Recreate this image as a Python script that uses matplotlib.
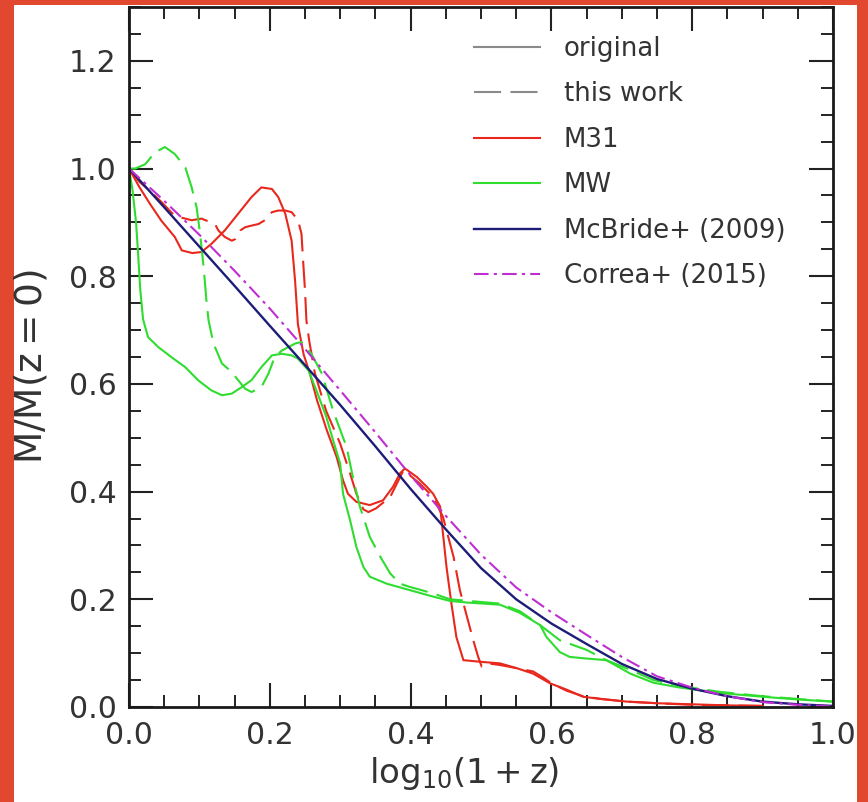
import matplotlib
matplotlib.use("Agg")
import matplotlib.pyplot as plt
from matplotlib.lines import Line2D
from matplotlib.patches import Rectangle
from matplotlib.ticker import MultipleLocator, FormatStrFormatter

plt.rcParams["font.family"] = ["DejaVu Sans"]
plt.rcParams["mathtext.fontset"] = "dejavusans"

# ---- mass accretion histories, x = log10(1+z), y = M/M(z=0) ----
m31_orig_x = [0.0, 0.015, 0.030, 0.046, 0.065, 0.075, 0.090, 0.103, 0.117, 0.136,
              0.155, 0.174, 0.188, 0.203, 0.212, 0.222, 0.231, 0.236, 0.240, 0.248,
              0.257, 0.267, 0.281, 0.295, 0.304, 0.311, 0.323, 0.342, 0.361, 0.375,
              0.385, 0.392, 0.409, 0.423, 0.432, 0.442, 0.446, 0.451, 0.458, 0.465,
              0.475, 0.499, 0.527, 0.551, 0.574, 0.598, 0.622, 0.645, 0.670, 0.707,
              0.750, 0.800, 0.850, 0.900]
m31_orig_y = [1.000, 0.965, 0.934, 0.903, 0.873, 0.848, 0.843, 0.845, 0.860, 0.885,
              0.916, 0.947, 0.965, 0.962, 0.947, 0.916, 0.866, 0.790, 0.710, 0.655,
              0.619, 0.570, 0.514, 0.464, 0.421, 0.396, 0.381, 0.375, 0.384, 0.409,
              0.434, 0.443, 0.427, 0.409, 0.396, 0.372, 0.322, 0.260, 0.192, 0.130,
              0.087, 0.084, 0.081, 0.072, 0.062, 0.044, 0.032, 0.019, 0.015, 0.010,
              0.007, 0.005, 0.003, 0.002]

m31_this_x = [0.0, 0.015, 0.030, 0.046, 0.065, 0.089, 0.103, 0.122, 0.127, 0.136,
              0.146, 0.151, 0.158, 0.165, 0.174, 0.184, 0.193, 0.203, 0.212, 0.222,
              0.231, 0.240, 0.245, 0.247, 0.250, 0.252, 0.256, 0.264, 0.280, 0.300,
              0.314, 0.323, 0.333, 0.340, 0.351, 0.371, 0.390, 0.413, 0.432, 0.446,
              0.451, 0.461, 0.470, 0.480, 0.489, 0.496, 0.501, 0.510, 0.527, 0.551,
              0.574, 0.588, 0.600, 0.622, 0.645, 0.670, 0.707, 0.750, 0.800, 0.850,
              0.900]
m31_this_y = [1.000, 0.975, 0.958, 0.938, 0.912, 0.904, 0.907, 0.897, 0.885, 0.873,
              0.866, 0.869, 0.885, 0.891, 0.894, 0.897, 0.904, 0.919, 0.922, 0.922,
              0.919, 0.904, 0.879, 0.835, 0.774, 0.718, 0.680, 0.620, 0.550, 0.489,
              0.434, 0.396, 0.367, 0.362, 0.369, 0.390, 0.440, 0.415, 0.390, 0.353,
              0.328, 0.279, 0.217, 0.168, 0.124, 0.093, 0.075, 0.081, 0.078, 0.072,
              0.066, 0.055, 0.044, 0.030, 0.020, 0.015, 0.010, 0.007, 0.004, 0.003,
              0.002]

mw_orig_x = [0.0, 0.005, 0.010, 0.013, 0.016, 0.020, 0.027, 0.042, 0.060, 0.080,
             0.098, 0.117, 0.132, 0.146, 0.160, 0.174, 0.188, 0.203, 0.217, 0.231,
             0.240, 0.255, 0.265, 0.280, 0.290, 0.300, 0.304, 0.314, 0.323, 0.333,
             0.342, 0.366, 0.399, 0.432, 0.456, 0.480, 0.527, 0.555, 0.584, 0.593,
             0.612, 0.626, 0.650, 0.678, 0.712, 0.745, 0.783, 0.840, 0.900, 0.950,
             1.000]
mw_orig_y = [1.000, 0.960, 0.900, 0.840, 0.775, 0.720, 0.687, 0.668, 0.650, 0.631,
             0.607, 0.588, 0.579, 0.582, 0.594, 0.607, 0.631, 0.653, 0.656, 0.653,
             0.647, 0.625, 0.592, 0.540, 0.495, 0.452, 0.396, 0.347, 0.297, 0.260,
             0.242, 0.229, 0.217, 0.205, 0.197, 0.194, 0.190, 0.175, 0.152, 0.130,
             0.102, 0.093, 0.090, 0.087, 0.062, 0.045, 0.036, 0.026, 0.019, 0.014,
             0.010]

mw_this_x = [0.0, 0.009, 0.023, 0.037, 0.051, 0.065, 0.080, 0.089, 0.096, 0.101,
             0.106, 0.110, 0.113, 0.120, 0.132, 0.146, 0.155, 0.165, 0.174, 0.188,
             0.198, 0.207, 0.217, 0.236, 0.245, 0.259, 0.274, 0.290, 0.309, 0.319,
             0.328, 0.342, 0.357, 0.371, 0.385, 0.399, 0.432, 0.456, 0.527, 0.555,
             0.584, 0.612, 0.650, 0.678, 0.712, 0.745, 0.783, 0.840, 0.900, 0.950,
             1.000]
mw_this_y = [1.000, 1.000, 1.008, 1.030, 1.040, 1.027, 1.002, 0.965, 0.928, 0.879,
             0.817, 0.755, 0.718, 0.675, 0.638, 0.622, 0.607, 0.591, 0.585, 0.594,
             0.619, 0.650, 0.662, 0.675, 0.678, 0.656, 0.619, 0.550, 0.483, 0.421,
             0.372, 0.316, 0.279, 0.248, 0.229, 0.223, 0.211, 0.200, 0.192, 0.178,
             0.152, 0.124, 0.106, 0.087, 0.069, 0.050, 0.039, 0.028, 0.020, 0.015,
             0.010]

# fitting-function curves sampled every 0.05 in log10(1+z)
fit_x = [0.00, 0.05, 0.10, 0.15, 0.20, 0.25, 0.30, 0.35, 0.40, 0.45, 0.50,
         0.55, 0.60, 0.65, 0.70, 0.75, 0.80, 0.85, 0.90, 0.95, 1.00]
mcbride_y = [1.000, 0.928, 0.855, 0.782, 0.708, 0.635, 0.561, 0.484, 0.405, 0.330,
             0.258, 0.200, 0.155, 0.117, 0.080, 0.052, 0.034, 0.020, 0.010, 0.005,
             0.002]
correa_y = [1.000, 0.940, 0.877, 0.810, 0.740, 0.665, 0.588, 0.510, 0.430, 0.355,
            0.283, 0.222, 0.176, 0.134, 0.093, 0.057, 0.036, 0.020, 0.009, 0.004,
            0.001]

legend_labels = ["original", "this work", "M31", "MW",
                 "McBride+ (2009)", "Correa+ (2015)"]

RED = "#e8281c"
GREEN = "#2fdd2f"
NAVY = "#1d1d78"
MAGENTA = "#c02ed2"
GRAY = "#8a8a8a"
DASH = (0, (13, 4.5))
DASHDOT = (0, (7, 2.5, 1.5, 2.5))
LW = 1.5

fig = plt.figure(figsize=(8.68, 8.02), dpi=100)
fig.patch.set_facecolor("#e2472f")
fig.add_artist(Rectangle((14 / 868, 0), (857 - 14) / 868, (802 - 5) / 802,
                         transform=fig.transFigure, facecolor="white",
                         edgecolor="none", zorder=-10))

ax = fig.add_axes([129 / 868, 95 / 802, 704 / 868, 700 / 802])

ax.plot(m31_orig_x, m31_orig_y, color=RED, lw=LW)
ax.plot(m31_this_x, m31_this_y, color=RED, lw=LW, linestyle=DASH)
ax.plot(mw_orig_x, mw_orig_y, color=GREEN, lw=LW)
ax.plot(mw_this_x, mw_this_y, color=GREEN, lw=LW, linestyle=DASH)
ax.plot(fit_x, mcbride_y, color=NAVY, lw=LW + 0.2)
ax.plot(fit_x, correa_y, color=MAGENTA, lw=LW, linestyle=DASHDOT)

ax.set_xlim(0, 1.0)
ax.set_ylim(0, 1.3)
ax.xaxis.set_major_locator(MultipleLocator(0.2))
ax.xaxis.set_minor_locator(MultipleLocator(0.05))
ax.yaxis.set_major_locator(MultipleLocator(0.2))
ax.yaxis.set_minor_locator(MultipleLocator(0.05))
ax.xaxis.set_major_formatter(FormatStrFormatter("%.1f"))
ax.yaxis.set_major_formatter(FormatStrFormatter("%.1f"))

ax.tick_params(which="both", direction="in", top=True, right=True,
               colors="#222222", labelcolor="#333333")
ax.tick_params(which="major", length=17, width=1.5, labelsize=21.5, pad=9)
ax.tick_params(which="minor", length=8.5, width=1.4)
ax.tick_params(axis="x", which="major", pad=10)
for sp in ax.spines.values():
    sp.set_linewidth(2.0)
    sp.set_color("#1a1a1a")

ax.set_xlabel(r"$\mathregular{log_{10}(1+z)}$", fontsize=24.5, color="#333333")
ax.set_ylabel(r"$\mathregular{M/M(z=0)}$", fontsize=27, color="#333333")
ax.xaxis.set_label_coords(0.476, -0.068)
ax.yaxis.set_label_coords(-0.113, 0.486)

handles = [
    Line2D([], [], color=GRAY, lw=LW),
    Line2D([], [], color=GRAY, lw=LW, linestyle=DASH),
    Line2D([], [], color=RED, lw=LW),
    Line2D([], [], color=GREEN, lw=LW),
    Line2D([], [], color=NAVY, lw=LW + 0.2),
    Line2D([], [], color=MAGENTA, lw=LW, linestyle=DASHDOT),
]
leg = ax.legend(handles, legend_labels, loc="upper left",
                bbox_to_anchor=(0.49, 0.959), frameon=False,
                fontsize=18.7, handlelength=2.55, handletextpad=0.9,
                labelspacing=0.75, borderpad=0, borderaxespad=0)
for t in leg.get_texts():
    t.set_color("#333333")

fig.savefig("out.png", dpi=100, facecolor=fig.get_facecolor())
